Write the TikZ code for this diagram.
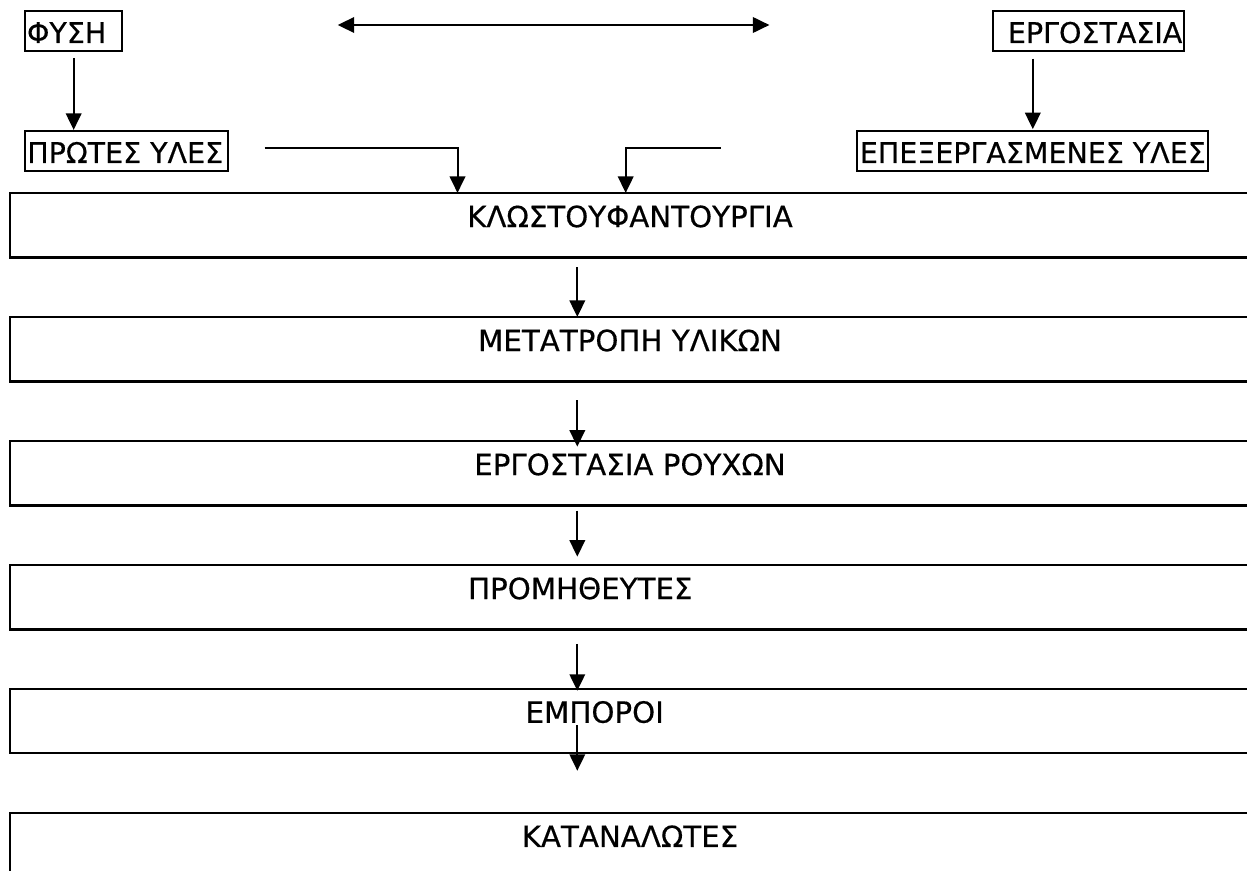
\documentclass[tikz,border=0pt]{standalone}
\usepackage{fontspec}
\setmainfont[FakeBold=0.4]{DejaVu Sans}
\usetikzlibrary{arrows.meta,calc}
\begin{document}
\begin{tikzpicture}[x=1pt,y=-1pt,
  bigbox/.style={draw,line width=2.1pt,outer sep=0pt,minimum width=1240pt,minimum height=64.5pt,
    inner xsep=0pt,inner ysep=0pt,text height=21.4pt,text depth=17.5pt,
    font=\fontsize{29.3}{35}\selectfont},
  smallbox/.style={draw,line width=2.1pt,outer sep=0pt,anchor=north west,minimum height=40.5pt,
    inner xsep=2pt,inner ysep=0pt,text height=24pt,text depth=0pt,
    font=\fontsize{28.5}{34}\selectfont},
  tipa/.tip={Triangle[width=15.5pt,length=16.5pt]},
  conn/.style={line width=2pt,-tipa},
  dconn/.style={line width=2pt,tipa-tipa}]
\useasboundingbox (0,0) rectangle (1247,870);
\fill[white] (0,0) rectangle (1247,870);
\clip (0,0) rectangle (1247,870);

% small boxes
\node[smallbox,minimum width=97.3pt] (fysi) at (25,10.7) {\makebox[93.3pt][l]{ΦΥΣΗ}};
\node[smallbox,minimum width=202.4pt] (prot) at (25.3,130.7) {\makebox[198.4pt][l]{ΠΡΩΤΕΣ ΥΛΕΣ}};
\node[smallbox,minimum width=191pt] (ergo) at (993.3,10.7) {\makebox[187pt][r]{ΕΡΓΟΣΤΑΣΙΑ}};
\node[smallbox,minimum width=351pt] (epex) at (857.3,130.7) {\makebox[347pt][c]{ΕΠΕΞΕΡΓΑΣΜΕΝΕΣ ΥΛΕΣ}};

% big boxes
\node[bigbox] (b1) at (630,225.2) {ΚΛΩΣΤΟΥΦΑΝΤΟΥΡΓΙΑ};
\node[bigbox] (b2) at (630,349.2) {ΜΕΤΑΤΡΟΠΗ ΥΛΙΚΩΝ};
\node[bigbox] (b3) at (630,473.2) {ΕΡΓΟΣΤΑΣΙΑ ΡΟΥΧΩΝ};
\node[bigbox] (b4) at (630,597.2) {ΠΡΟΜΗΘΕΥΤΕΣ\hspace*{99.4pt}};
\node[bigbox] (b5) at (630,720.8) {ΕΜΠΟΡΟΙ\hspace*{70.6pt}};
\node[bigbox] (b6) at (630,845) {ΚΑΤΑΝΑΛΩΤΕΣ};

% free coordinates
\coordinate (ax) at (577.3,0);
\coordinate (dl) at (337.7,25);
\coordinate (dr) at (769.4,25);

% top connectors
\draw[dconn] (dl) -- (dr);
\draw[conn] ($(fysi.south)+(0pt,-6.6pt)$) -- ($(prot.north -| fysi.south)+(0pt,0.8pt)$);
\draw[conn] ($(ergo.south -| epex.north)+(0pt,-7.3pt)$) -- ($(epex.north)+(0pt,1.5pt)$);
\draw[conn] ($(prot.east)+(37pt,2.6pt)$) -| ($(b1.north)+(-172.5pt,0pt)$);
\draw[conn] ($(epex.west)+(-136.6pt,2.6pt)$) -| ($(b1.north)+(-4.3pt,0pt)$);

% chain
\draw[conn] ($(b1.south -| ax)+(0pt,-9.6pt)$) -- (b2.north -| ax);
\draw[conn] ($(b2.south -| ax)+(0pt,-19pt)$) -- ($(b3.north -| ax)+(0pt,-5.7pt)$);
\draw[conn] ($(b3.south -| ax)+(0pt,-5.2pt)$) -- ($(b4.north -| ax)+(0pt,8.3pt)$);
\draw[conn] ($(b4.south -| ax)+(0pt,-14.5pt)$) -- ($(b5.north -| ax)+(0pt,-2.2pt)$);
\draw[conn] ($(b5.south -| ax)+(0pt,28pt)$) -- ($(b6.north -| ax)+(0pt,42pt)$);
\end{tikzpicture}
\end{document}
